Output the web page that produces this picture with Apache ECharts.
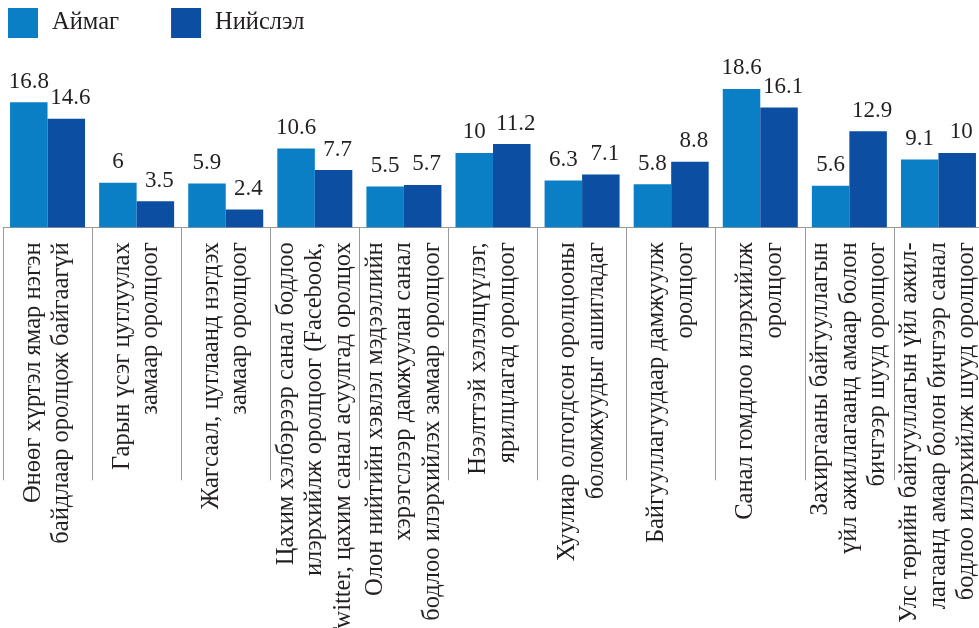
<!DOCTYPE html>
<html><head><meta charset="utf-8">
<script src="https://cdn.jsdelivr.net/npm/echarts@6/dist/echarts.min.js"></script>
<style>html,body{margin:0;padding:0;background:#fff}#c{width:979px;height:628px}</style>
</head><body><div id="c"></div>
<script>
var categories = [
  "Өнөөг хүртэл ямар нэгэн\nбайдлаар оролцож байгаагүй",
  "Гарын үсэг цуглуулах\nзамаар оролцоог",
  "Жагсаал, цуглаанд нэгдэх\nзамаар оролцоог",
  "Цахим хэлбэрээр санал бодлоо\nилэрхийлж оролцоог (Facebook,\nTwitter, цахим санал асуулгад оролцох",
  "Олон нийтийн хэвлэл мэдээллийн\nхэрэгслээр дамжуулан санал\nбодлоо илэрхийлэх замаар оролцоог",
  "Нээлттэй хэлэлцүүлэг,\nярилцлагад оролцоог",
  "Хуулиар олгогдсон оролцооны\nболомжуудыг ашигладаг",
  "Байгууллагуудаар дамжуулж\nоролцоог",
  "Санал гомдлоо илэрхийлж\nоролцоог",
  "Захиргааны байгууллагын\nүйл ажиллагаанд амаар болон\nбичгээр шууд оролцоог",
  "Улс төрийн байгууллагын үйл ажил-\nлагаанд амаар болон бичгээр санал\nбодлоо илэрхийлж шууд оролцоог"
];
var seriesNames = ["Аймаг", "Нийслэл"];
var aimag = [16.8, 6, 5.9, 10.6, 5.5, 10, 6.3, 5.8, 18.6, 5.6, 9.1];
var niislel = [14.6, 3.5, 2.4, 7.7, 5.7, 11.2, 7.1, 8.8, 16.1, 12.9, 10];

var FONT = "Liberation Serif";
var chart = echarts.init(document.getElementById('c'));
function labelCfg(dx) {
  return {show: true, position: 'top', distance: 9, offset: [dx, 0], color: '#231f20', fontFamily: FONT, fontSize: 23};
}
chart.setOption({
  animation: false,
  legend: {
    left: 8, top: 8, padding: 0, itemWidth: 30, itemHeight: 30, itemGap: 52, icon: 'rect',
    textStyle: {fontFamily: FONT, fontSize: 24.5, color: '#231f20', padding: [0, 0, 0, 9]},
    data: seriesNames
  },
  grid: {left: 3, width: 980, top: 78.5, bottom: 400.7, containLabel: false, outerBoundsMode: 'none'},
  xAxis: {
    type: 'category', data: categories,
    axisLine: {show: true, lineStyle: {color: '#9a9a9a', width: 1}},
    axisTick: {show: true, length: 253, lineStyle: {color: '#9a9a9a', width: 1}},
    axisLabel: {interval: 0, rotate: 90, margin: 15, fontFamily: FONT, fontSize: 24.5, lineHeight: 28.5, color: '#231f20'}
  },
  yAxis: {type: 'value', min: 0, max: 20, show: false, splitLine: {show: false}},
  series: [
    {name: seriesNames[0], type: 'bar', data: aimag, barWidth: 37.5, barGap: '0%', itemStyle: {color: '#0a7fc6'}, label: labelCfg(0)},
    {name: seriesNames[1], type: 'bar', data: niislel, barWidth: 37.5, barGap: '0%', itemStyle: {color: '#0b4ea2'}, label: labelCfg(4)}
  ]
});
</script></body></html>
